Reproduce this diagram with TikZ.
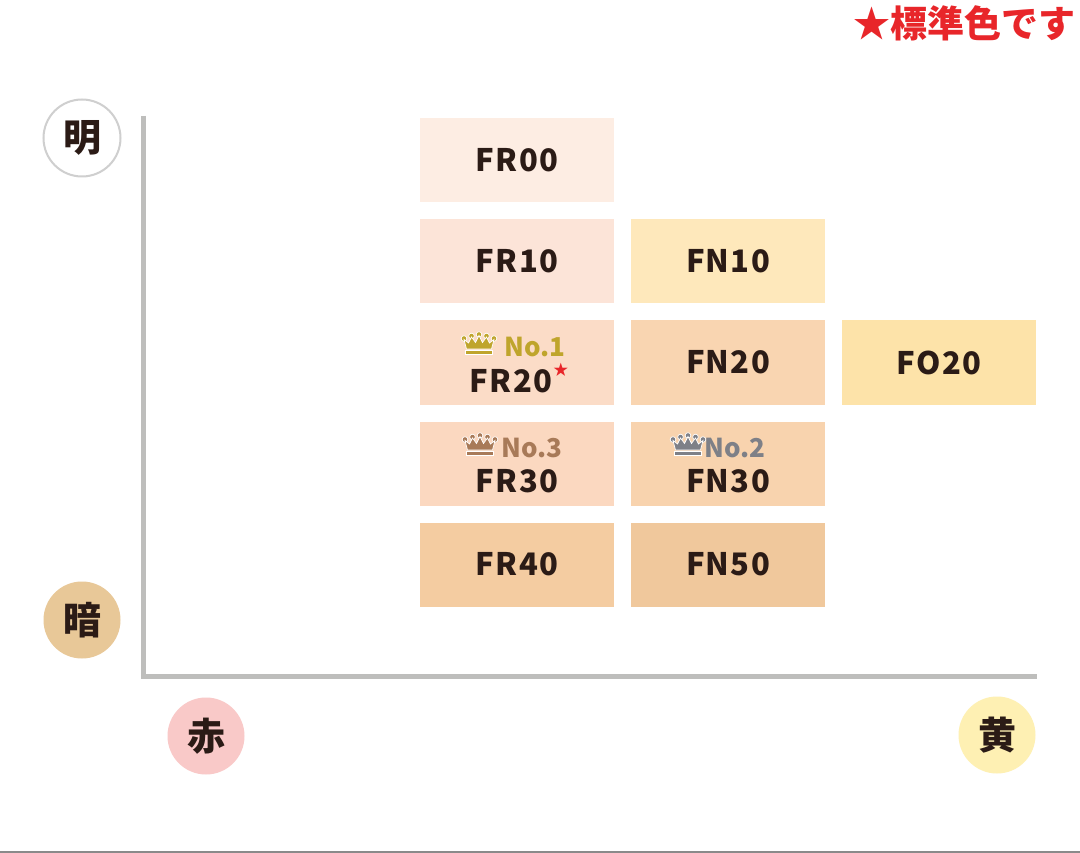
\documentclass[tikz,border=0pt]{standalone}
\usepackage{fontspec}
\setmainfont{Noto Sans CJK JP}
\newfontfamily\codefont{Noto Sans CJK JP}[LetterSpace=4]
\usepackage{xcolor}
\usetikzlibrary{positioning}
\definecolor{ink}{HTML}{2B1B16}
\definecolor{fr00}{HTML}{FDEDE3}
\definecolor{fr10}{HTML}{FCE4D8}
\definecolor{fn10}{HTML}{FEE8BB}
\definecolor{fr20}{HTML}{FBDCC7}
\definecolor{fn20}{HTML}{F9D5B1}
\definecolor{fo20}{HTML}{FDE3A9}
\definecolor{fr30}{HTML}{FBD8C0}
\definecolor{fn30}{HTML}{F8D3AE}
\definecolor{fr40}{HTML}{F4CCA1}
\definecolor{fn50}{HTML}{F0C89C}
\definecolor{axisgray}{HTML}{BEBEBC}
\definecolor{ringgray}{HTML}{CFCFCF}
\definecolor{darktone}{HTML}{E8C898}
\definecolor{redtone}{HTML}{F9C9C8}
\definecolor{yellowtone}{HTML}{FEF0B3}
\definecolor{starred}{HTML}{E8262A}
\definecolor{goldc}{HTML}{BFA52C}
\definecolor{bronzec}{HTML}{A87A58}
\definecolor{silverc}{HTML}{7E8087}
\definecolor{framegray}{HTML}{8A8A8A}

\begin{document}
\begin{tikzpicture}[x=1pt,y=-1pt]

\tikzset{
	swatch/.style={
		rectangle,
		minimum width=194pt,
		minimum height=84pt,
		inner sep=0pt,
		outer sep=0pt},
	code/.style={
		text=ink,
		font=\codefont\bfseries\fontsize{31}{31}\selectfont,
		inner sep=0pt},
	rank/.style={
		font=\bfseries\fontsize{26}{26}\selectfont,
		inner sep=0pt,
		anchor=west},
	tone/.style={
		circle,
		minimum size=77pt,
		inner sep=0pt,
		text=ink,
		font=\bfseries\fontsize{38}{38}\selectfont},
	axis/.style={
		draw=axisgray,
		line width=5pt},
	pics/crown/.style={
		code={
		\foreach \bx/\by in {-15/-7,-7.5/-9.5,0/-11,7.5/-9.5,15/-7}
			\filldraw[fill=#1,draw=white,line width=0.7pt] (\bx,\by) circle (2.8);
		\filldraw[fill=#1,draw=white,line width=0.7pt]
			(-12.5,3.5) -- (-15,-6) -- (-10.5,-2.5) -- (-7.5,-8.5) -- (-3.5,-3)
			-- (0,-10) -- (3.5,-3) -- (7.5,-8.5) -- (10.5,-2.5) -- (15,-6) -- (12.5,3.5) -- cycle;
		\filldraw[fill=#1,draw=white,line width=0.7pt] (-13.5,5) rectangle (13.5,8.5);
		}}
}

\useasboundingbox[fill=white] (0,0) rectangle (1080,853);

\node[anchor=north east,inner sep=0pt,text=starred,font=\bfseries\fontsize{37}{37}\selectfont] (std) at (1076,5) {★標準色です};

% axes
\coordinate (ytop) at (143,116);
\coordinate (origin) at (143,676);
\coordinate (xend) at (1037,676);
\draw[axis] (ytop) -- (origin) -- (xend);

\node[tone,draw=ringgray,line width=2pt,fill=white] (light) at (82,138) {明};
\node[tone,fill=darktone] (dark) at (82,620) {暗};
\node[tone,fill=redtone] (red) at (206,736) {赤};
\node[tone,fill=yellowtone] (yellow) at (997,735) {黄};

% swatches
\node[swatch,code,fill=fr00] (fr00) at (517,160.5) {FR00};
\node[swatch,code,fill=fr10,below=17pt of fr00] (fr10) {FR10};
\node[swatch,fill=fr20,below=17pt of fr10] (fr20) {};
\node[swatch,fill=fr30,below=17pt of fr20] (fr30) {};
\node[swatch,code,fill=fr40,below=17pt of fr30] (fr40) {FR40};

\node[swatch,code,fill=fn10,right=17pt of fr10] (fn10) {FN10};
\node[swatch,code,fill=fn20,right=17pt of fr20] (fn20) {FN20};
\node[swatch,fill=fn30,right=17pt of fr30] (fn30) {};
\node[swatch,code,fill=fn50,right=17pt of fr40] (fn50) {FN50};

\node[swatch,code,fill=fo20,right=17pt of fn20] (fo20) {FO20};

% ranking
\node[code,anchor=base] (fr20code) at ([xshift=-6pt,yshift=-30pt]fr20.center) {FR20};
\node[inner sep=0pt,anchor=south west,text=starred,font=\fontsize{15}{15}\selectfont] (fr20star) at ([xshift=1pt,yshift=-7pt]fr20code.north east) {★};
\pic at ([xshift=-38pt,yshift=17pt]fr20.center) {crown=goldc};
\node[rank,text=goldc] (no1) at ([xshift=-13pt,yshift=16pt]fr20.center) {No.1};

\node[code,anchor=base] (fr30code) at ([yshift=-29pt]fr30.center) {FR30};
\pic at ([xshift=-37pt,yshift=17pt]fr30.center) {crown=bronzec};
\node[rank,text=bronzec] (no3) at ([xshift=-16pt,yshift=16pt]fr30.center) {No.3};

\node[code,anchor=base] (fn30code) at ([yshift=-29pt]fn30.center) {FN30};
\pic at ([xshift=-40pt,yshift=17pt]fn30.center) {crown=silverc};
\node[rank,text=silverc] (no2) at ([xshift=-24pt,yshift=16pt]fn30.center) {No.2};

\draw[draw=framegray,line width=2pt] (0,852) -- (1080,852);
\end{tikzpicture}
\end{document}
